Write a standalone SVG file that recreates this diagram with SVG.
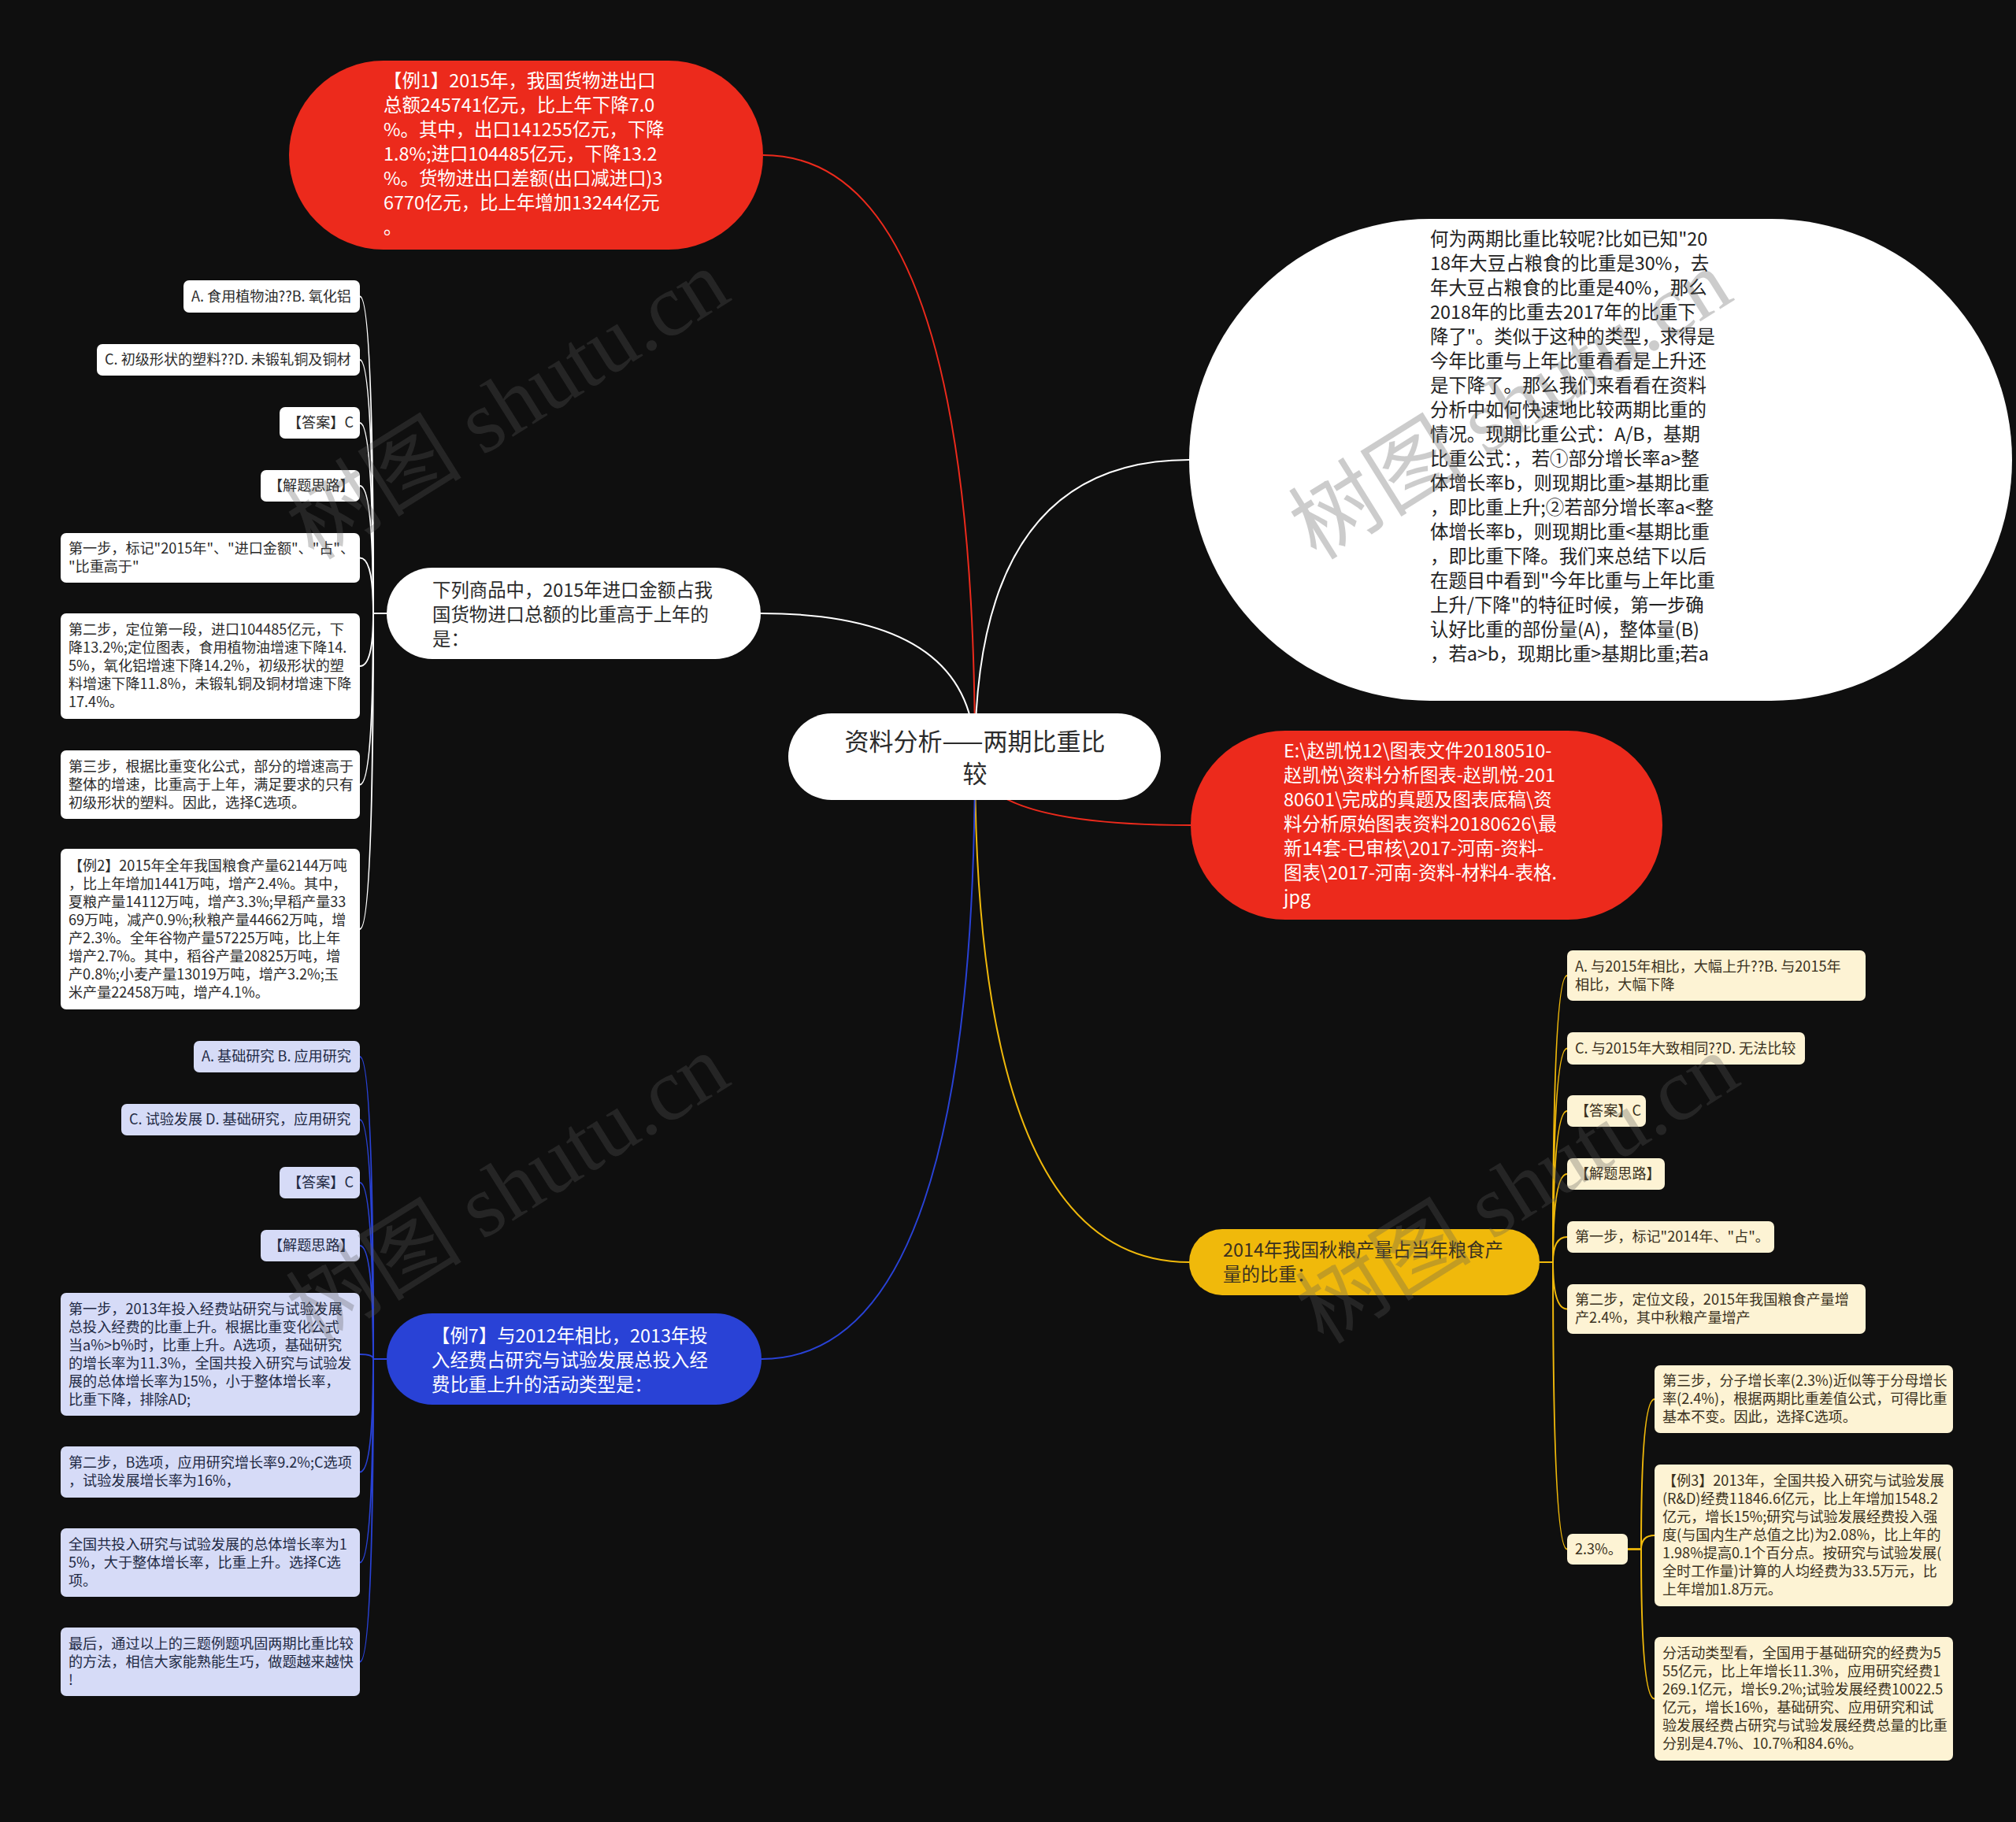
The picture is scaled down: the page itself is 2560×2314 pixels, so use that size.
<svg xmlns="http://www.w3.org/2000/svg" width="2560" height="2314" viewBox="0 0 2560 2314">
<style>
text{font-family:"Noto Sans CJK SC","Noto Sans",sans-serif}
.m{font-size:23.4px}
.s{font-size:18.1px}
.w{fill:#ffffff}
.d{fill:#2b2b2b}
.dy{fill:#3a3120}
.db{fill:#222a44}
.cw{fill:#ffffff}
.cb{fill:#d6dbf7}
.cy{fill:#fdf3d4}
.lw{fill:none;stroke:#ffffff;stroke-width:2}
.lb{fill:none;stroke:#2942d6;stroke-width:2}
.ly{fill:none;stroke:#f0b90b;stroke-width:2}
.lr{fill:none;stroke:#ec2a1c;stroke-width:2}
.wm{font-family:"Liberation Serif","Noto Sans CJK SC",serif;font-size:112px;fill:#5a5a5a;opacity:0.3}
</style>
<rect width="2560" height="2314" fill="#0f0f0f"/>
<g id="connectors">
<path class="lr" d="M1238,961 Q1238,197 969,197"/>
<path class="lw" d="M1238,961 Q1238,584 1510,584"/>
<path class="lw" d="M1238,961 Q1238,779 966,779"/>
<path class="lr" d="M1238,961 Q1238,1048 1512,1048"/>
<path class="ly" d="M1238,961 Q1238,1603 1510,1603"/>
<path class="lb" d="M1238,961 Q1238,1726 967,1726"/>
<path class="lw" d="M491,779 H474 Q474,376.5 457,376.5"/>
<path class="lw" d="M491,779 H474 Q474,457 457,457"/>
<path class="lw" d="M491,779 H474 Q474,537 457,537"/>
<path class="lw" d="M491,779 H474 Q474,617 457,617"/>
<path class="lw" d="M491,779 H474 Q474,708.5 457,708.5"/>
<path class="lw" d="M491,779 H474 Q474,846 457,846"/>
<path class="lw" d="M491,779 H474 Q474,996.5 457,996.5"/>
<path class="lw" d="M491,779 H474 Q474,1180 457,1180"/>
<path class="lb" d="M491,1726 H474 Q474,1342 457,1342"/>
<path class="lb" d="M491,1726 H474 Q474,1422 457,1422"/>
<path class="lb" d="M491,1726 H474 Q474,1502 457,1502"/>
<path class="lb" d="M491,1726 H474 Q474,1582 457,1582"/>
<path class="lb" d="M491,1726 H474 Q474,1720 457,1720"/>
<path class="lb" d="M491,1726 H474 Q474,1869.5 457,1869.5"/>
<path class="lb" d="M491,1726 H474 Q474,1984.5 457,1984.5"/>
<path class="lb" d="M491,1726 H474 Q474,2110.5 457,2110.5"/>
<path class="ly" d="M1955,1603 H1972 Q1972,1239 1990,1239"/>
<path class="ly" d="M1955,1603 H1972 Q1972,1331.5 1990,1331.5"/>
<path class="ly" d="M1955,1603 H1972 Q1972,1411 1990,1411"/>
<path class="ly" d="M1955,1603 H1972 Q1972,1491 1990,1491"/>
<path class="ly" d="M1955,1603 H1972 Q1972,1571 1990,1571"/>
<path class="ly" d="M1955,1603 H1972 Q1972,1662.5 1990,1662.5"/>
<path class="ly" d="M1955,1603 H1972 Q1972,1967.5 1990,1967.5"/>
<path class="ly" d="M2067,1967.5 H2084 Q2084,1777 2101,1777"/>
<path class="ly" d="M2067,1967.5 H2084 Q2084,1950 2101,1950"/>
<path class="ly" d="M2067,1967.5 H2084 Q2084,2157.5 2101,2157.5"/>
</g>
<g id="root">
<rect x="1001" y="906" width="473" height="110" rx="55" fill="#ffffff"/>
<text x="1238" y="953" font-size="31" text-anchor="middle" class="d">资料分析——两期比重比</text>
<text x="1238" y="994" font-size="31" text-anchor="middle" class="d">较</text>
</g>
<g id="n-li1">
<rect x="367" y="77" width="602" height="240" rx="120" fill="#ec2a1c"/>
<text class="m w" x="487"><tspan x="487" y="111">【例1】2015年，我国货物进出口</tspan><tspan x="487" y="142">总额245741亿元，比上年下降7.0</tspan><tspan x="487" y="173">%。其中，出口141255亿元，下降</tspan><tspan x="487" y="204">1.8%;进口104485亿元，下降13.2</tspan><tspan x="487" y="235">%。货物进出口差额(出口减进口)3</tspan><tspan x="487" y="266">6770亿元，比上年增加13244亿元</tspan><tspan x="487" y="297">。</tspan></text>
</g>
<g id="n-intro">
<rect x="1510" y="278" width="1045" height="612" rx="306" fill="#ffffff"/>
<text class="m" fill="#222" x="1816"><tspan x="1816" y="312">何为两期比重比较呢?比如已知"20</tspan><tspan x="1816" y="343">18年大豆占粮食的比重是30%，去</tspan><tspan x="1816" y="374">年大豆占粮食的比重是40%，那么</tspan><tspan x="1816" y="405">2018年的比重去2017年的比重下</tspan><tspan x="1816" y="436">降了"。类似于这种的类型，求得是</tspan><tspan x="1816" y="467">今年比重与上年比重看看是上升还</tspan><tspan x="1816" y="498">是下降了。那么我们来看看在资料</tspan><tspan x="1816" y="529">分析中如何快速地比较两期比重的</tspan><tspan x="1816" y="560">情况。现期比重公式：A/B，基期</tspan><tspan x="1816" y="591">比重公式：，若①部分增长率a&gt;整</tspan><tspan x="1816" y="622">体增长率b，则现期比重&gt;基期比重</tspan><tspan x="1816" y="653">，即比重上升;②若部分增长率a&lt;整</tspan><tspan x="1816" y="684">体增长率b，则现期比重&lt;基期比重</tspan><tspan x="1816" y="715">，即比重下降。我们来总结下以后</tspan><tspan x="1816" y="746">在题目中看到"今年比重与上年比重</tspan><tspan x="1816" y="777">上升/下降"的特征时候，第一步确</tspan><tspan x="1816" y="808">认好比重的部份量(A)，整体量(B)</tspan><tspan x="1816" y="839">，若a&gt;b，现期比重&gt;基期比重;若a</tspan></text>
</g>
<g id="n-q1">
<rect x="491" y="721" width="475" height="116" rx="58" fill="#ffffff"/>
<text class="m d" x="549"><tspan x="549" y="758">下列商品中，2015年进口金额占我</tspan><tspan x="549" y="789">国货物进口总额的比重高于上年的</tspan><tspan x="549" y="820">是：</tspan></text>
</g>
<g id="n-path">
<rect x="1512" y="928" width="599" height="240" rx="120" fill="#ec2a1c"/>
<text class="m w" x="1630"><tspan x="1630" y="962">E:\赵凯悦12\图表文件20180510-</tspan><tspan x="1630" y="993">赵凯悦\资料分析图表-赵凯悦-201</tspan><tspan x="1630" y="1024">80601\完成的真题及图表底稿\资</tspan><tspan x="1630" y="1055">料分析原始图表资料20180626\最</tspan><tspan x="1630" y="1086">新14套-已审核\2017-河南-资料-</tspan><tspan x="1630" y="1117">图表\2017-河南-资料-材料4-表格.</tspan><tspan x="1630" y="1148">jpg</tspan></text>
</g>
<g id="n-q2">
<rect x="1510" y="1561" width="445" height="84" rx="42" fill="#f0b90b"/>
<text class="m dy" x="1553"><tspan x="1553" y="1596">2014年我国秋粮产量占当年粮食产</tspan><tspan x="1553" y="1627">量的比重：</tspan></text>
</g>
<g id="n-q3">
<rect x="491" y="1668" width="476" height="116" rx="58" fill="#2942d6"/>
<text class="m w" x="548"><tspan x="548" y="1705">【例7】与2012年相比，2013年投</tspan><tspan x="548" y="1736">入经费占研究与试验发展总投入经</tspan><tspan x="548" y="1767">费比重上升的活动类型是：</tspan></text>
</g>
<g id="q1-children">
<g id="q1-a"><rect class="cw" x="233" y="356" width="224" height="41" rx="7"/><text class="s d" x="243" y="383">A. 食用植物油??B. 氧化铝</text></g>
<g id="q1-c"><rect class="cw" x="123" y="437" width="334" height="40" rx="7"/><text class="s d" x="133" y="463">C. 初级形状的塑料??D. 未锻轧铜及铜材</text></g>
<g id="q1-ans"><rect class="cw" x="355" y="517" width="102" height="40" rx="7"/><text class="s d" x="365" y="543">【答案】C</text></g>
<g id="q1-idea"><rect class="cw" x="331" y="597" width="126" height="40" rx="7"/><text class="s d" x="341" y="623">【解题思路】</text></g>
<g id="q1-s1"><rect class="cw" x="77" y="677" width="380" height="63" rx="7"/><text class="s d"><tspan x="87" y="703">第一步，标记"2015年"、"进口金额"、"占"、</tspan><tspan x="87" y="726">"比重高于"</tspan></text></g>
<g id="q1-s2"><rect class="cw" x="77" y="779" width="380" height="134" rx="7"/><text class="s d"><tspan x="87" y="806">第二步，定位第一段，进口104485亿元，下</tspan><tspan x="87" y="829">降13.2%;定位图表，食用植物油增速下降14.</tspan><tspan x="87" y="852">5%，氧化铝增速下降14.2%，初级形状的塑</tspan><tspan x="87" y="875">料增速下降11.8%，未锻轧铜及铜材增速下降</tspan><tspan x="87" y="898">17.4%。</tspan></text></g>
<g id="q1-s3"><rect class="cw" x="77" y="953" width="380" height="87" rx="7"/><text class="s d"><tspan x="87" y="980">第三步，根据比重变化公式，部分的增速高于</tspan><tspan x="87" y="1003">整体的增速，比重高于上年，满足要求的只有</tspan><tspan x="87" y="1026">初级形状的塑料。因此，选择C选项。</tspan></text></g>
<g id="q1-ex2"><rect class="cw" x="77" y="1078" width="380" height="204" rx="7"/><text class="s d"><tspan x="87" y="1106">【例2】2015年全年我国粮食产量62144万吨</tspan><tspan x="87" y="1129">，比上年增加1441万吨，增产2.4%。其中，</tspan><tspan x="87" y="1152">夏粮产量14112万吨，增产3.3%;早稻产量33</tspan><tspan x="87" y="1175">69万吨，减产0.9%;秋粮产量44662万吨，增</tspan><tspan x="87" y="1198">产2.3%。全年谷物产量57225万吨，比上年</tspan><tspan x="87" y="1221">增产2.7%。其中，稻谷产量20825万吨，增</tspan><tspan x="87" y="1244">产0.8%;小麦产量13019万吨，增产3.2%;玉</tspan><tspan x="87" y="1267">米产量22458万吨，增产4.1%。</tspan></text></g>
</g>
<g id="q3-children">
<g id="q3-a"><rect class="cb" x="246" y="1322" width="211" height="40" rx="7"/><text class="s db" x="256" y="1348">A. 基础研究 B. 应用研究</text></g>
<g id="q3-c"><rect class="cb" x="154" y="1402" width="303" height="40" rx="7"/><text class="s db" x="164" y="1428">C. 试验发展 D. 基础研究，应用研究</text></g>
<g id="q3-ans"><rect class="cb" x="355" y="1482" width="102" height="40" rx="7"/><text class="s db" x="365" y="1508">【答案】C</text></g>
<g id="q3-idea"><rect class="cb" x="331" y="1562" width="126" height="40" rx="7"/><text class="s db" x="341" y="1588">【解题思路】</text></g>
<g id="q3-s1"><rect class="cb" x="77" y="1642" width="380" height="156" rx="7"/><text class="s db"><tspan x="87" y="1669">第一步，2013年投入经费站研究与试验发展</tspan><tspan x="87" y="1692">总投入经费的比重上升。根据比重变化公式</tspan><tspan x="87" y="1715">当a%&gt;b%时，比重上升。A选项，基础研究</tspan><tspan x="87" y="1738">的增长率为11.3%，全国共投入研究与试验发</tspan><tspan x="87" y="1761">展的总体增长率为15%，小于整体增长率，</tspan><tspan x="87" y="1784">比重下降，排除AD;</tspan></text></g>
<g id="q3-s2"><rect class="cb" x="77" y="1837" width="380" height="65" rx="7"/><text class="s db"><tspan x="87" y="1864">第二步，B选项，应用研究增长率9.2%;C选项</tspan><tspan x="87" y="1887">，试验发展增长率为16%，</tspan></text></g>
<g id="q3-s3"><rect class="cb" x="77" y="1941" width="380" height="87" rx="7"/><text class="s db"><tspan x="87" y="1968">全国共投入研究与试验发展的总体增长率为1</tspan><tspan x="87" y="1991">5%，大于整体增长率，比重上升。选择C选</tspan><tspan x="87" y="2014">项。</tspan></text></g>
<g id="q3-end"><rect class="cb" x="77" y="2067" width="380" height="87" rx="7"/><text class="s db"><tspan x="87" y="2094">最后，通过以上的三题例题巩固两期比重比较</tspan><tspan x="87" y="2117">的方法，相信大家能熟能生巧，做题越来越快</tspan><tspan x="87" y="2140">!</tspan></text></g>
</g>
<g id="q2-children">
<g id="q2-a"><rect class="cy" x="1990" y="1207" width="379" height="64" rx="7"/><text class="s dy"><tspan x="2000" y="1234">A. 与2015年相比，大幅上升??B. 与2015年</tspan><tspan x="2000" y="1257">相比，大幅下降</tspan></text></g>
<g id="q2-c"><rect class="cy" x="1990" y="1311" width="302" height="41" rx="7"/><text class="s dy" x="2000" y="1338">C. 与2015年大致相同??D. 无法比较</text></g>
<g id="q2-ans"><rect class="cy" x="1990" y="1391" width="100" height="40" rx="7"/><text class="s dy" x="2000" y="1417">【答案】C</text></g>
<g id="q2-idea"><rect class="cy" x="1990" y="1471" width="124" height="40" rx="7"/><text class="s dy" x="2000" y="1497">【解题思路】</text></g>
<g id="q2-s1"><rect class="cy" x="1990" y="1551" width="263" height="40" rx="7"/><text class="s dy" x="2000" y="1577">第一步，标记"2014年、"占"。</text></g>
<g id="q2-s2"><rect class="cy" x="1990" y="1631" width="379" height="63" rx="7"/><text class="s dy"><tspan x="2000" y="1657">第二步，定位文段，2015年我国粮食产量增</tspan><tspan x="2000" y="1680">产2.4%，其中秋粮产量增产</tspan></text></g>
<g id="q2-p"><rect class="cy" x="1990" y="1948" width="77" height="39" rx="7"/><text class="s dy" x="2000" y="1974">2.3%。</text></g>
<g id="q2-s3"><rect class="cy" x="2101" y="1734" width="379" height="86" rx="7"/><text class="s dy"><tspan x="2111" y="1760">第三步，分子增长率(2.3%)近似等于分母增长</tspan><tspan x="2111" y="1783">率(2.4%)，根据两期比重差值公式，可得比重</tspan><tspan x="2111" y="1806">基本不变。因此，选择C选项。</tspan></text></g>
<g id="q2-ex3"><rect class="cy" x="2101" y="1860" width="379" height="180" rx="7"/><text class="s dy"><tspan x="2111" y="1887">【例3】2013年，全国共投入研究与试验发展</tspan><tspan x="2111" y="1910">(R&amp;D)经费11846.6亿元，比上年增加1548.2</tspan><tspan x="2111" y="1933">亿元，增长15%;研究与试验发展经费投入强</tspan><tspan x="2111" y="1956">度(与国内生产总值之比)为2.08%，比上年的</tspan><tspan x="2111" y="1979">1.98%提高0.1个百分点。按研究与试验发展(</tspan><tspan x="2111" y="2002">全时工作量)计算的人均经费为33.5万元，比</tspan><tspan x="2111" y="2025">上年增加1.8万元。</tspan></text></g>
<g id="q2-act"><rect class="cy" x="2101" y="2079" width="379" height="157" rx="7"/><text class="s dy"><tspan x="2111" y="2106">分活动类型看，全国用于基础研究的经费为5</tspan><tspan x="2111" y="2129">55亿元，比上年增长11.3%，应用研究经费1</tspan><tspan x="2111" y="2152">269.1亿元，增长9.2%;试验发展经费10022.5</tspan><tspan x="2111" y="2175">亿元，增长16%，基础研究、应用研究和试</tspan><tspan x="2111" y="2198">验发展经费占研究与试验发展经费总量的比重</tspan><tspan x="2111" y="2221">分别是4.7%、10.7%和84.6%。</tspan></text></g>
</g>
<g id="watermarks">
<text class="wm" x="645" y="552" text-anchor="middle" transform="rotate(-32 645 514)">树图 shutu.cn</text>
<text class="wm" x="1918" y="552" text-anchor="middle" transform="rotate(-32 1918 514)">树图 shutu.cn</text>
<text class="wm" x="645" y="1548" text-anchor="middle" transform="rotate(-32 645 1510)">树图 shutu.cn</text>
<text class="wm" x="1927" y="1548" text-anchor="middle" transform="rotate(-32 1927 1510)">树图 shutu.cn</text>
</g>
</svg>
